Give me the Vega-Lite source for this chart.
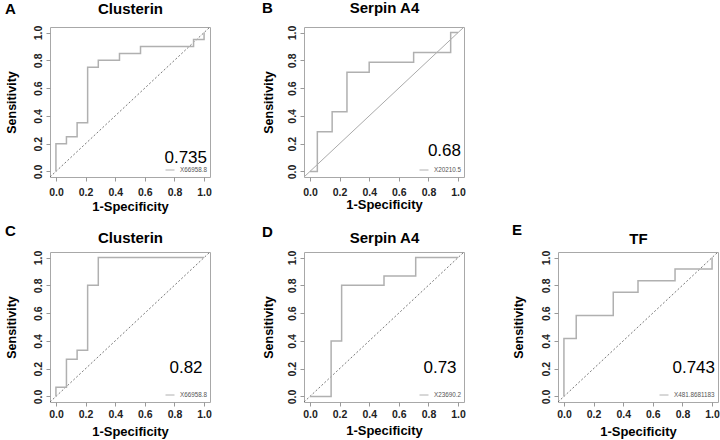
{
"$schema":"https://vega.github.io/schema/vega-lite/v6.json",
"background":"white",
"padding":{"left":4,"top":-1,"right":0,"bottom":0},
"config":{"view":{"stroke":"#a8a8a8","strokeWidth":1},"font":"Liberation Sans","axis":{"labelOverlap":false,"labelFlush":false},"axisY":{"labelOverlap":false},"axisLeft":{"labelOverlap":false}},
"datasets":{
"diag":[{"fpr":-0.04,"tpr":-0.04},{"fpr":1.04,"tpr":1.04}],
"rocA":[{"i":0,"fpr":0,"tpr":0,"m":"X66958.8"},{"i":1,"fpr":0,"tpr":0.2,"m":"X66958.8"},{"i":2,"fpr":0.071,"tpr":0.2,"m":"X66958.8"},{"i":3,"fpr":0.071,"tpr":0.25,"m":"X66958.8"},{"i":4,"fpr":0.143,"tpr":0.25,"m":"X66958.8"},{"i":5,"fpr":0.143,"tpr":0.35,"m":"X66958.8"},{"i":6,"fpr":0.214,"tpr":0.35,"m":"X66958.8"},{"i":7,"fpr":0.214,"tpr":0.75,"m":"X66958.8"},{"i":8,"fpr":0.286,"tpr":0.75,"m":"X66958.8"},{"i":9,"fpr":0.286,"tpr":0.8,"m":"X66958.8"},{"i":10,"fpr":0.429,"tpr":0.8,"m":"X66958.8"},{"i":11,"fpr":0.429,"tpr":0.85,"m":"X66958.8"},{"i":12,"fpr":0.571,"tpr":0.85,"m":"X66958.8"},{"i":13,"fpr":0.571,"tpr":0.9,"m":"X66958.8"},{"i":14,"fpr":0.929,"tpr":0.9,"m":"X66958.8"},{"i":15,"fpr":0.929,"tpr":0.95,"m":"X66958.8"},{"i":16,"fpr":1,"tpr":0.95,"m":"X66958.8"},{"i":17,"fpr":1,"tpr":1,"m":"X66958.8"}],
"rocB":[{"i":0,"fpr":0,"tpr":0,"m":"X20210.5"},{"i":1,"fpr":0.05,"tpr":0,"m":"X20210.5"},{"i":2,"fpr":0.05,"tpr":0.286,"m":"X20210.5"},{"i":3,"fpr":0.15,"tpr":0.286,"m":"X20210.5"},{"i":4,"fpr":0.15,"tpr":0.429,"m":"X20210.5"},{"i":5,"fpr":0.25,"tpr":0.429,"m":"X20210.5"},{"i":6,"fpr":0.25,"tpr":0.714,"m":"X20210.5"},{"i":7,"fpr":0.4,"tpr":0.714,"m":"X20210.5"},{"i":8,"fpr":0.4,"tpr":0.786,"m":"X20210.5"},{"i":9,"fpr":0.7,"tpr":0.786,"m":"X20210.5"},{"i":10,"fpr":0.7,"tpr":0.857,"m":"X20210.5"},{"i":11,"fpr":0.95,"tpr":0.857,"m":"X20210.5"},{"i":12,"fpr":0.95,"tpr":1,"m":"X20210.5"},{"i":13,"fpr":1,"tpr":1,"m":"X20210.5"}],
"rocC":[{"i":0,"fpr":0,"tpr":0,"m":"X66958.8"},{"i":1,"fpr":0,"tpr":0.067,"m":"X66958.8"},{"i":2,"fpr":0.071,"tpr":0.067,"m":"X66958.8"},{"i":3,"fpr":0.071,"tpr":0.267,"m":"X66958.8"},{"i":4,"fpr":0.143,"tpr":0.267,"m":"X66958.8"},{"i":5,"fpr":0.143,"tpr":0.333,"m":"X66958.8"},{"i":6,"fpr":0.214,"tpr":0.333,"m":"X66958.8"},{"i":7,"fpr":0.214,"tpr":0.8,"m":"X66958.8"},{"i":8,"fpr":0.286,"tpr":0.8,"m":"X66958.8"},{"i":9,"fpr":0.286,"tpr":1,"m":"X66958.8"},{"i":10,"fpr":1,"tpr":1,"m":"X66958.8"}],
"rocD":[{"i":0,"fpr":0,"tpr":0,"m":"X23690.2"},{"i":1,"fpr":0.143,"tpr":0,"m":"X23690.2"},{"i":2,"fpr":0.143,"tpr":0.4,"m":"X23690.2"},{"i":3,"fpr":0.214,"tpr":0.4,"m":"X23690.2"},{"i":4,"fpr":0.214,"tpr":0.8,"m":"X23690.2"},{"i":5,"fpr":0.5,"tpr":0.8,"m":"X23690.2"},{"i":6,"fpr":0.5,"tpr":0.867,"m":"X23690.2"},{"i":7,"fpr":0.714,"tpr":0.867,"m":"X23690.2"},{"i":8,"fpr":0.714,"tpr":1,"m":"X23690.2"},{"i":9,"fpr":1,"tpr":1,"m":"X23690.2"}],
"rocE":[{"i":0,"fpr":0,"tpr":0,"m":"X481.8681183"},{"i":1,"fpr":0,"tpr":0.417,"m":"X481.8681183"},{"i":2,"fpr":0.083,"tpr":0.417,"m":"X481.8681183"},{"i":3,"fpr":0.083,"tpr":0.583,"m":"X481.8681183"},{"i":4,"fpr":0.333,"tpr":0.583,"m":"X481.8681183"},{"i":5,"fpr":0.333,"tpr":0.75,"m":"X481.8681183"},{"i":6,"fpr":0.5,"tpr":0.75,"m":"X481.8681183"},{"i":7,"fpr":0.5,"tpr":0.833,"m":"X481.8681183"},{"i":8,"fpr":0.75,"tpr":0.833,"m":"X481.8681183"},{"i":9,"fpr":0.75,"tpr":0.917,"m":"X481.8681183"},{"i":10,"fpr":1,"tpr":0.917,"m":"X481.8681183"},{"i":11,"fpr":1,"tpr":1,"m":"X481.8681183"}]
},
"columns":3,
"spacing":{"row":75,"column":94},
"bounds":"flush",
"resolve":{"scale":{"color":"independent","x":"independent","y":"independent"},"legend":{"color":"independent"}},
"concat":[
{"width":160,"height":150,
"title":{"text":"A","anchor":"start","frame":"bounds","font":"Liberation Sans","fontSize":15,"fontWeight":"bold","color":"#000","baseline":"alphabetic","offset":-28},
"layer":[
{"data":{"name":"diag"},"mark":{"type":"line","color":"#555","strokeWidth":0.8,"strokeDash":[2,2]},
"encoding":{"x":{"field":"fpr","type":"quantitative","scale":{"domain":[-0.04,1.04],"nice":false,"zero":false},"axis":{"orient":"top","title":"Clusterin","labels":false,"ticks":false,"domain":false,"grid":false,"titleFont":"Liberation Sans","titleFontSize":15,"titleFontWeight":"bold","titleColor":"#000","titleY":-14,"titleBaseline":"alphabetic"}},
"y":{"field":"tpr","type":"quantitative","scale":{"domain":[-0.04,1.04],"nice":false,"zero":false},"axis":{"title":"Sensitivity","values":[0,0.2,0.4,0.6,0.8,1],"format":".1f","grid":false,"domain":false,"tickColor":"#999","tickSize":4,"labelAngle":270,"labelAlign":"center","labelBaseline":"bottom","labelPadding":3,"labelFont":"Liberation Sans","labelFontSize":10.5,"labelFontWeight":"bold","labelColor":"#222","labelFlush":false,"labelOverlap":false,"titleFont":"Liberation Sans","titleFontSize":12.5,"titleFontWeight":"bold","titleColor":"#000","titleAngle":-90,"titleX":-39,"titleY":75,"titleAlign":"center","titleBaseline":"middle"}}}},
{"data":{"name":"rocA"},"mark":{"type":"line","strokeWidth":1.5},
"encoding":{"x":{"field":"fpr","type":"quantitative","axis":{"orient":"bottom","title":"1-Specificity","values":[0,0.2,0.4,0.6,0.8,1],"format":".1f","grid":false,"domain":false,"tickColor":"#999","tickSize":4,"labelPadding":6,"labelFont":"Liberation Sans","labelFontSize":10.5,"labelFontWeight":"bold","labelColor":"#222","labelFlush":false,"labelOverlap":false,"titleFont":"Liberation Sans","titleFontSize":13,"titleFontWeight":"bold","titleColor":"#000","titleY":29,"titleBaseline":"middle"}},
"y":{"field":"tpr","type":"quantitative","axis":{"title":"Sensitivity","values":[0,0.2,0.4,0.6,0.8,1],"format":".1f","grid":false,"domain":false,"tickColor":"#999","tickSize":4,"labelAngle":270,"labelAlign":"center","labelBaseline":"bottom","labelPadding":3,"labelFont":"Liberation Sans","labelFontSize":10.5,"labelFontWeight":"bold","labelColor":"#222","labelFlush":false,"labelOverlap":false,"titleFont":"Liberation Sans","titleFontSize":12.5,"titleFontWeight":"bold","titleColor":"#000","titleAngle":-90,"titleX":-39,"titleY":75,"titleAlign":"center","titleBaseline":"middle"}},
"order":{"field":"i","type":"quantitative"},
"color":{"field":"m","type":"nominal","scale":{"range":["#b0b0b0"]},"legend":{"orient":"bottom-right","offset":3,"padding":0,"title":"0.735","titleFont":"Liberation Sans","titleFontSize":17,"titleFontWeight":"normal","titleColor":"#000","titleAnchor":"end","titlePadding":-2,"labelFont":"Liberation Sans","labelFontSize":6.3,"labelColor":"#555","symbolType":"stroke","symbolStrokeWidth":1,"symbolSize":81,"labelOffset":5}}}}
],
"resolve":{"axis":{"x":"independent"}}},
{"width":160,"height":150,
"title":{"text":"B","anchor":"start","frame":"bounds","font":"Liberation Sans","fontSize":15,"fontWeight":"bold","color":"#000","baseline":"alphabetic","offset":-28},
"layer":[
{"data":{"name":"diag"},"mark":{"type":"line","color":"#aaa","strokeWidth":1},
"encoding":{"x":{"field":"fpr","type":"quantitative","scale":{"domain":[-0.04,1.04],"nice":false,"zero":false},"axis":{"orient":"top","title":"Serpin A4","labels":false,"ticks":false,"domain":false,"grid":false,"titleFont":"Liberation Sans","titleFontSize":15,"titleFontWeight":"bold","titleColor":"#000","titleY":-15,"titleBaseline":"alphabetic"}},
"y":{"field":"tpr","type":"quantitative","scale":{"domain":[-0.04,1.04],"nice":false,"zero":false},"axis":{"title":"Sensitivity","values":[0,0.2,0.4,0.6,0.8,1],"format":".1f","grid":false,"domain":false,"tickColor":"#999","tickSize":4,"labelAngle":270,"labelAlign":"center","labelBaseline":"bottom","labelPadding":3,"labelFont":"Liberation Sans","labelFontSize":10.5,"labelFontWeight":"bold","labelColor":"#222","labelFlush":false,"labelOverlap":false,"titleFont":"Liberation Sans","titleFontSize":12.5,"titleFontWeight":"bold","titleColor":"#000","titleAngle":-90,"titleX":-36,"titleY":75,"titleAlign":"center","titleBaseline":"middle"}}}},
{"data":{"name":"rocB"},"mark":{"type":"line","strokeWidth":1.5},
"encoding":{"x":{"field":"fpr","type":"quantitative","axis":{"orient":"bottom","title":"1-Specificity","values":[0,0.2,0.4,0.6,0.8,1],"format":".1f","grid":false,"domain":false,"tickColor":"#999","tickSize":4,"labelPadding":6,"labelFont":"Liberation Sans","labelFontSize":10.5,"labelFontWeight":"bold","labelColor":"#222","labelFlush":false,"labelOverlap":false,"titleFont":"Liberation Sans","titleFontSize":13,"titleFontWeight":"bold","titleColor":"#000","titleY":27,"titleBaseline":"middle"}},
"y":{"field":"tpr","type":"quantitative","axis":{"title":"Sensitivity","values":[0,0.2,0.4,0.6,0.8,1],"format":".1f","grid":false,"domain":false,"tickColor":"#999","tickSize":4,"labelAngle":270,"labelAlign":"center","labelBaseline":"bottom","labelPadding":3,"labelFont":"Liberation Sans","labelFontSize":10.5,"labelFontWeight":"bold","labelColor":"#222","labelFlush":false,"labelOverlap":false,"titleFont":"Liberation Sans","titleFontSize":12.5,"titleFontWeight":"bold","titleColor":"#000","titleAngle":-90,"titleX":-36,"titleY":75,"titleAlign":"center","titleBaseline":"middle"}},
"order":{"field":"i","type":"quantitative"},
"color":{"field":"m","type":"nominal","scale":{"range":["#b0b0b0"]},"legend":{"orient":"bottom-right","offset":3,"padding":0,"title":"0.68","titleFont":"Liberation Sans","titleFontSize":17,"titleFontWeight":"normal","titleColor":"#000","titleAnchor":"end","titlePadding":5,"labelFont":"Liberation Sans","labelFontSize":6.3,"labelColor":"#555","symbolType":"stroke","symbolStrokeWidth":1,"symbolSize":81,"labelOffset":5}}}}
],
"resolve":{"axis":{"x":"independent"}}},
{"width":160,"height":150,"data":{"values":[]},"mark":"point","encoding":{},"view":{"stroke":null}},
{"width":160,"height":150,
"title":{"text":"C","anchor":"start","frame":"bounds","font":"Liberation Sans","fontSize":15,"fontWeight":"bold","color":"#000","baseline":"alphabetic","offset":-21},
"layer":[
{"data":{"name":"diag"},"mark":{"type":"line","color":"#555","strokeWidth":0.8,"strokeDash":[2,2]},
"encoding":{"x":{"field":"fpr","type":"quantitative","scale":{"domain":[-0.04,1.04],"nice":false,"zero":false},"axis":{"orient":"top","title":"Clusterin","labels":false,"ticks":false,"domain":false,"grid":false,"titleFont":"Liberation Sans","titleFontSize":15,"titleFontWeight":"bold","titleColor":"#000","titleY":-10,"titleBaseline":"alphabetic"}},
"y":{"field":"tpr","type":"quantitative","scale":{"domain":[-0.04,1.04],"nice":false,"zero":false},"axis":{"title":"Sensitivity","values":[0,0.2,0.4,0.6,0.8,1],"format":".1f","grid":false,"domain":false,"tickColor":"#999","tickSize":4,"labelAngle":270,"labelAlign":"center","labelBaseline":"bottom","labelPadding":3,"labelFont":"Liberation Sans","labelFontSize":10.5,"labelFontWeight":"bold","labelColor":"#222","labelFlush":false,"labelOverlap":false,"titleFont":"Liberation Sans","titleFontSize":12.5,"titleFontWeight":"bold","titleColor":"#000","titleAngle":-90,"titleX":-39,"titleY":75,"titleAlign":"center","titleBaseline":"middle"}}}},
{"data":{"name":"rocC"},"mark":{"type":"line","strokeWidth":1.5},
"encoding":{"x":{"field":"fpr","type":"quantitative","axis":{"orient":"bottom","title":"1-Specificity","values":[0,0.2,0.4,0.6,0.8,1],"format":".1f","grid":false,"domain":false,"tickColor":"#999","tickSize":4,"labelPadding":3,"labelFont":"Liberation Sans","labelFontSize":10.5,"labelFontWeight":"bold","labelColor":"#222","labelFlush":false,"labelOverlap":false,"titleFont":"Liberation Sans","titleFontSize":13,"titleFontWeight":"bold","titleColor":"#000","titleY":29,"titleBaseline":"middle"}},
"y":{"field":"tpr","type":"quantitative","axis":{"title":"Sensitivity","values":[0,0.2,0.4,0.6,0.8,1],"format":".1f","grid":false,"domain":false,"tickColor":"#999","tickSize":4,"labelAngle":270,"labelAlign":"center","labelBaseline":"bottom","labelPadding":3,"labelFont":"Liberation Sans","labelFontSize":10.5,"labelFontWeight":"bold","labelColor":"#222","labelFlush":false,"labelOverlap":false,"titleFont":"Liberation Sans","titleFontSize":12.5,"titleFontWeight":"bold","titleColor":"#000","titleAngle":-90,"titleX":-39,"titleY":75,"titleAlign":"center","titleBaseline":"middle"}},
"order":{"field":"i","type":"quantitative"},
"color":{"field":"m","type":"nominal","scale":{"range":["#b0b0b0"]},"legend":{"orient":"bottom-right","offset":3,"padding":0,"title":"0.82","titleFont":"Liberation Sans","titleFontSize":17,"titleFontWeight":"normal","titleColor":"#000","titleAnchor":"middle","titlePadding":13,"labelFont":"Liberation Sans","labelFontSize":6.3,"labelColor":"#555","symbolType":"stroke","symbolStrokeWidth":1,"symbolSize":81,"labelOffset":5}}}}
],
"resolve":{"axis":{"x":"independent"}}},
{"width":160,"height":150,
"title":{"text":"D","anchor":"start","frame":"bounds","font":"Liberation Sans","fontSize":15,"fontWeight":"bold","color":"#000","baseline":"alphabetic","offset":-22},
"layer":[
{"data":{"name":"diag"},"mark":{"type":"line","color":"#555","strokeWidth":0.8,"strokeDash":[2,2]},
"encoding":{"x":{"field":"fpr","type":"quantitative","scale":{"domain":[-0.04,1.04],"nice":false,"zero":false},"axis":{"orient":"top","title":"Serpin A4","labels":false,"ticks":false,"domain":false,"grid":false,"titleFont":"Liberation Sans","titleFontSize":15,"titleFontWeight":"bold","titleColor":"#000","titleY":-10,"titleBaseline":"alphabetic"}},
"y":{"field":"tpr","type":"quantitative","scale":{"domain":[-0.04,1.04],"nice":false,"zero":false},"axis":{"title":"Sensitivity","values":[0,0.2,0.4,0.6,0.8,1],"format":".1f","grid":false,"domain":false,"tickColor":"#999","tickSize":4,"labelAngle":270,"labelAlign":"center","labelBaseline":"bottom","labelPadding":3,"labelFont":"Liberation Sans","labelFontSize":10.5,"labelFontWeight":"bold","labelColor":"#222","labelFlush":false,"labelOverlap":false,"titleFont":"Liberation Sans","titleFontSize":12.5,"titleFontWeight":"bold","titleColor":"#000","titleAngle":-90,"titleX":-36,"titleY":75,"titleAlign":"center","titleBaseline":"middle"}}}},
{"data":{"name":"rocD"},"mark":{"type":"line","strokeWidth":1.5},
"encoding":{"x":{"field":"fpr","type":"quantitative","axis":{"orient":"bottom","title":"1-Specificity","values":[0,0.2,0.4,0.6,0.8,1],"format":".1f","grid":false,"domain":false,"tickColor":"#999","tickSize":4,"labelPadding":3,"labelFont":"Liberation Sans","labelFontSize":10.5,"labelFontWeight":"bold","labelColor":"#222","labelFlush":false,"labelOverlap":false,"titleFont":"Liberation Sans","titleFontSize":13,"titleFontWeight":"bold","titleColor":"#000","titleY":28,"titleBaseline":"middle"}},
"y":{"field":"tpr","type":"quantitative","axis":{"title":"Sensitivity","values":[0,0.2,0.4,0.6,0.8,1],"format":".1f","grid":false,"domain":false,"tickColor":"#999","tickSize":4,"labelAngle":270,"labelAlign":"center","labelBaseline":"bottom","labelPadding":3,"labelFont":"Liberation Sans","labelFontSize":10.5,"labelFontWeight":"bold","labelColor":"#222","labelFlush":false,"labelOverlap":false,"titleFont":"Liberation Sans","titleFontSize":12.5,"titleFontWeight":"bold","titleColor":"#000","titleAngle":-90,"titleX":-36,"titleY":75,"titleAlign":"center","titleBaseline":"middle"}},
"order":{"field":"i","type":"quantitative"},
"color":{"field":"m","type":"nominal","scale":{"range":["#b0b0b0"]},"legend":{"orient":"bottom-right","offset":3,"padding":0,"title":"0.73","titleFont":"Liberation Sans","titleFontSize":17,"titleFontWeight":"normal","titleColor":"#000","titleAnchor":"middle","titlePadding":13,"labelFont":"Liberation Sans","labelFontSize":6.3,"labelColor":"#555","symbolType":"stroke","symbolStrokeWidth":1,"symbolSize":81,"labelOffset":5}}}}
],
"resolve":{"axis":{"x":"independent"}}},
{"width":160,"height":150,
"title":{"text":"E","anchor":"start","frame":"bounds","font":"Liberation Sans","fontSize":15,"fontWeight":"bold","color":"#000","baseline":"alphabetic","offset":-19},
"layer":[
{"data":{"name":"diag"},"mark":{"type":"line","color":"#555","strokeWidth":0.8,"strokeDash":[2,2]},
"encoding":{"x":{"field":"fpr","type":"quantitative","scale":{"domain":[-0.04,1.04],"nice":false,"zero":false},"axis":{"orient":"top","title":"TF","labels":false,"ticks":false,"domain":false,"grid":false,"titleFont":"Liberation Sans","titleFontSize":15,"titleFontWeight":"bold","titleColor":"#000","titleY":-9,"titleBaseline":"alphabetic"}},
"y":{"field":"tpr","type":"quantitative","scale":{"domain":[-0.04,1.04],"nice":false,"zero":false},"axis":{"title":"Sensitivity","values":[0,0.2,0.4,0.6,0.8,1],"format":".1f","grid":false,"domain":false,"tickColor":"#999","tickSize":4,"labelAngle":270,"labelAlign":"center","labelBaseline":"bottom","labelPadding":3,"labelFont":"Liberation Sans","labelFontSize":10.5,"labelFontWeight":"bold","labelColor":"#222","labelFlush":false,"labelOverlap":false,"titleFont":"Liberation Sans","titleFontSize":12.5,"titleFontWeight":"bold","titleColor":"#000","titleAngle":-90,"titleX":-40,"titleY":75,"titleAlign":"center","titleBaseline":"middle"}}}},
{"data":{"name":"rocE"},"mark":{"type":"line","strokeWidth":1.5},
"encoding":{"x":{"field":"fpr","type":"quantitative","axis":{"orient":"bottom","title":"1-Specificity","values":[0,0.2,0.4,0.6,0.8,1],"format":".1f","grid":false,"domain":false,"tickColor":"#999","tickSize":4,"labelPadding":3,"labelFont":"Liberation Sans","labelFontSize":10.5,"labelFontWeight":"bold","labelColor":"#222","labelFlush":false,"labelOverlap":false,"titleFont":"Liberation Sans","titleFontSize":13,"titleFontWeight":"bold","titleColor":"#000","titleY":29,"titleBaseline":"middle"}},
"y":{"field":"tpr","type":"quantitative","axis":{"title":"Sensitivity","values":[0,0.2,0.4,0.6,0.8,1],"format":".1f","grid":false,"domain":false,"tickColor":"#999","tickSize":4,"labelAngle":270,"labelAlign":"center","labelBaseline":"bottom","labelPadding":3,"labelFont":"Liberation Sans","labelFontSize":10.5,"labelFontWeight":"bold","labelColor":"#222","labelFlush":false,"labelOverlap":false,"titleFont":"Liberation Sans","titleFontSize":12.5,"titleFontWeight":"bold","titleColor":"#000","titleAngle":-90,"titleX":-40,"titleY":75,"titleAlign":"center","titleBaseline":"middle"}},
"order":{"field":"i","type":"quantitative"},
"color":{"field":"m","type":"nominal","scale":{"range":["#b0b0b0"]},"legend":{"orient":"bottom-right","offset":3,"padding":0,"title":"0.743","titleFont":"Liberation Sans","titleFontSize":17,"titleFontWeight":"normal","titleColor":"#000","titleAnchor":"end","titlePadding":13,"labelFont":"Liberation Sans","labelFontSize":6.3,"labelColor":"#555","symbolType":"stroke","symbolStrokeWidth":1,"symbolSize":81,"labelOffset":5}}}}
],
"resolve":{"axis":{"x":"independent"}}}
]
}
